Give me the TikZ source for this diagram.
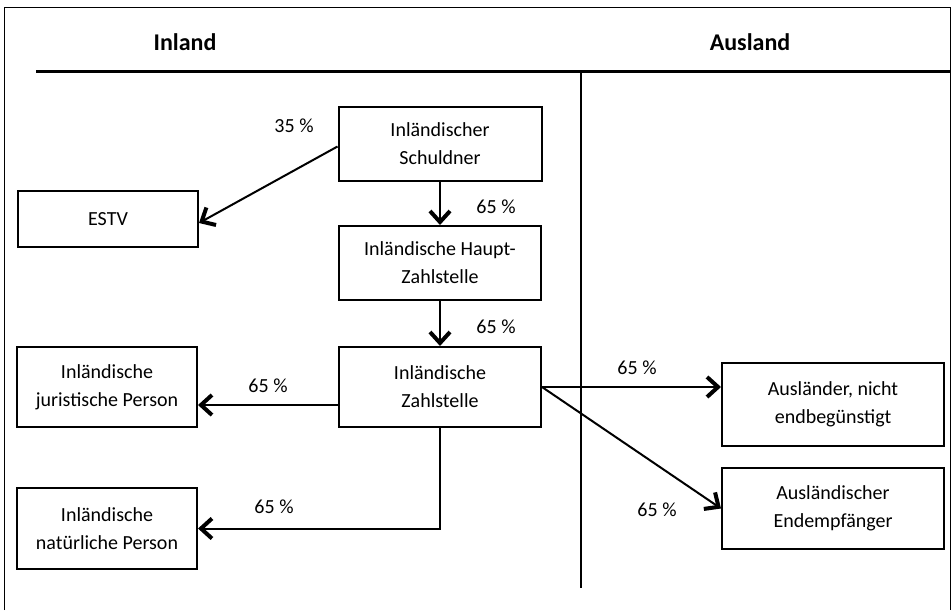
\documentclass[tikz,border=0pt]{standalone}
\usepackage{fontspec}
\setmainfont{Carlito}
\usetikzlibrary{calc, positioning, arrows.meta}

\begin{document}
\begin{tikzpicture}[
    x=1pt, y=-1pt,
    box/.style={draw, line width=2pt, align=center, inner sep=0pt, font=\fontsize{20}{28}\selectfont},
    pfeil/.style={line width=2pt, -{Straight Barb[length=11pt, width=20pt, line width=4pt]}},
    anteil/.style={font=\fontsize{20}{28}\selectfont},
    kopf/.style={font=\bfseries\fontsize{24}{28}\selectfont}
]

    \useasboundingbox (0,0) rectangle (952,610);

    % 1. Rahmen, Kopfzeile und Grenze Inland/Ausland
    \draw[line width=1.5pt] (4.5,610) -- (4.5,7.5) -- (950.5,7.5) -- (950.5,610);
    \coordinate (kopfL) at (36,71.5);
    \coordinate (kopfR) at (950.5,71.5);
    \draw[line width=2.5pt] (kopfL) -- (kopfR);
    \coordinate (grenzeO) at (580.5,71.5);
    \coordinate (grenzeU) at (580.5,588);
    \draw[line width=2pt] (grenzeO) -- (grenzeU);

    \node[kopf] (inland) at (185,42) {Inland};
    \node[kopf] (ausland) at (750,42) {Ausland};

    % 2. Kaesten (Mitte, Breite und Hoehe aus dem Bild)
    \node[box, minimum width=203pt, minimum height=74pt] (schuldner) at (440,143.5) {Inländischer\\Schuldner};
    \node[box, minimum width=180pt, minimum height=56pt] (estv) at (108,219) {ESTV};
    \node[box, minimum width=202pt, minimum height=74pt] (haupt) at (440,263) {Inländische Haupt-\\Zahlstelle};
    \node[box, minimum width=202pt, minimum height=80pt] (zahl) at (440,387) {Inländische\\Zahlstelle};
    \node[box, minimum width=180pt, minimum height=80pt] (jur) at (107,387) {Inländische\\juristische Person};
    \node[box, minimum width=180pt, minimum height=81pt] (nat) at (107,528.5) {Inländische\\natürliche Person};
    \node[box, minimum width=222pt, minimum height=83pt] (ausl) at (833,404.5) {Ausländer, nicht\\endbegünstigt};
    \node[box, minimum width=222pt, minimum height=81pt] (endem) at (833,508.5) {Ausländischer\\Endempfänger};

    % 3. Pfeile
    \draw[pfeil] ($(schuldner.west)+(0,3)$) -- ($(estv.east)+(0,4)$);
    \draw[pfeil] (schuldner.south) -- (haupt.north);
    \draw[pfeil] (haupt.south) -- (zahl.north);
    \coordinate (zj) at ($(zahl.west)+(0,18)$);
    \draw[pfeil] (zj) -- (zj -| jur.east);
    \draw[pfeil] (zahl.south) -- (zahl.south |- nat.east) -- (nat.east);
    \draw[pfeil] (zahl.east) -- (zahl.east -| ausl.west);
    \draw[pfeil] (zahl.east) -- (endem.west);

    % 4. Anteile
    \node[anteil] (p35) at (294,126) {35 \%};
    \node[anteil] (p65a) at (496,207) {65 \%};
    \node[anteil] (p65b) at (496,327) {65 \%};
    \node[anteil] (p65c) at (268,386) {65 \%};
    \node[anteil] (p65d) at (274,507) {65 \%};
    \node[anteil] (p65e) at (637,368) {65 \%};
    \node[anteil] (p65f) at (657,510) {65 \%};

\end{tikzpicture}
\end{document}
